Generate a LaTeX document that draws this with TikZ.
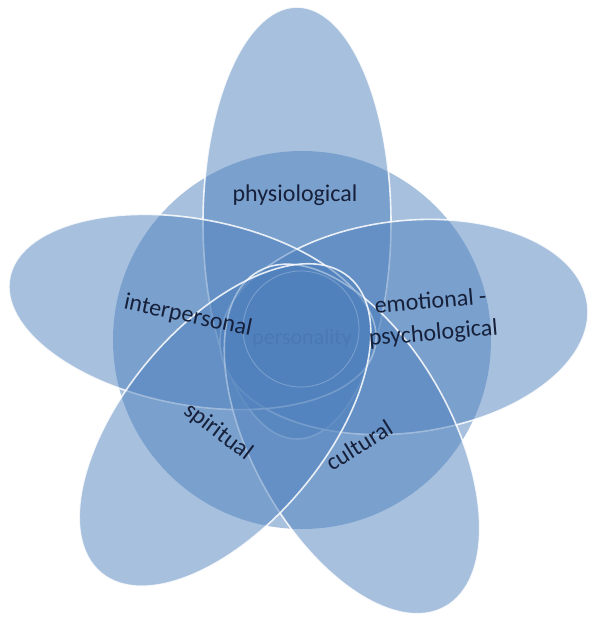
\documentclass[tikz,border=0pt]{standalone}
\usepackage{fontspec}
\setmainfont{Carlito}
\definecolor{acc}{RGB}{79,129,189}
\definecolor{txt}{RGB}{22,32,58}
\definecolor{hidden}{RGB}{74,120,181}
\begin{document}
\begin{tikzpicture}[x=1pt,y=1pt,
  petal/.style={fill=acc, fill opacity=0.5, draw=white, draw opacity=0.85, line width=1.6pt},
  lab/.style={text=txt, font=\fontsize{24}{32}\selectfont, inner sep=0pt, align=center}]
\useasboundingbox (0,0) rectangle (591,-620);
% big circle
\fill[acc, fill opacity=0.5] (302,-340) circle (189pt);
% petals
\draw[petal] (297,-223) ellipse [x radius=94pt, y radius=216pt];
\draw[petal, rotate around={7:(404,-327)}] (404,-327) ellipse [x radius=185pt, y radius=106pt];
\draw[petal, rotate around={-10.6:(192.5,-312)}] (192.5,-312) ellipse [x radius=186pt, y radius=93pt];
\draw[petal, rotate around={-61:(352,-439)}] (352,-439) ellipse [x radius=192pt, y radius=100pt];
\draw[petal, rotate around={50:(225,-425)}] (225,-425) ellipse [x radius=193pt, y radius=100pt];
% central circle
\draw[fill=acc, fill opacity=0.5, draw=white, draw opacity=0.25, line width=0.8pt] (301,-329) circle (58pt);
% labels
\node[lab] (phys) at (295,-195) {physiological};
\node[lab, rotate=-12] (inter) at (188,-316) {interpersonal};
\node[lab, rotate=5] (emo) at (432,-318) {emotional -\\psychological};
\node[lab, rotate=-37] (spir) at (218,-432) {spiritual};
\node[lab, rotate=32] (cult) at (359,-445) {cultural};
\node[lab, text=hidden, font=\fontsize{22}{26}\selectfont] (pers) at (302,-339) {personality};
\end{tikzpicture}
\end{document}
